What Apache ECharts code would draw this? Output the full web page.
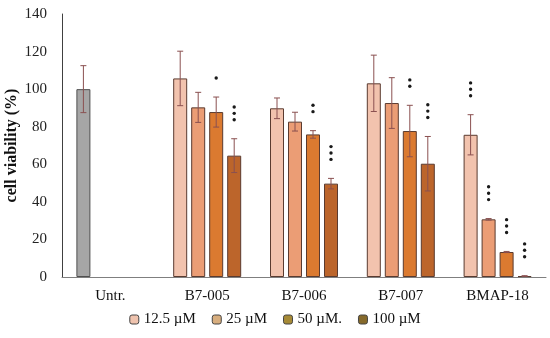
<!DOCTYPE html>
<html><head><meta charset="utf-8">
<script src="https://cdn.jsdelivr.net/npm/echarts@6/dist/echarts.min.js"></script>
<style>html,body{margin:0;padding:0;background:#fff}#c{width:550px;height:338px}</style>
</head><body><div id="c"></div>
<script>
var categories = ['Untr.', 'B7-005', 'B7-006', 'B7-007', 'BMAP-18'];
var seriesNames = ['12.5 \u00b5M', '25 \u00b5M', '50 \u00b5M.', '100 \u00b5M'];
var yTicks = [0, 20, 40, 60, 80, 100, 120, 140];
var v125 = [100, 105.7, 89.8, 103.1, 75.7];
var v25 = [null, 90.3, 82.7, 92.6, 30.7];
var v50 = [null, 87.8, 75.9, 77.7, 13.3];
var v100 = [null, 64.6, 49.7, 60.3, 0.5];
var e125 = [12.5, 14.5, 5.5, 15, 10.7];
var e25 = [null, 8, 5, 13.5, 0.4];
var e50 = [null, 8, 2, 13.7, 0.3];
var e100 = [null, 9, 2.8, 14.5, 0.2];
var s125 = ['', '', '', '', '***'];
var s25 = ['', '', '', '', '***'];
var s50 = ['', '*', '**', '**', '***'];
var s100 = ['', '***', '***', '***', '***'];

var values = [v125, v25, v50, v100];
var errors = [e125, e25, e50, e100];
var stars = [s125, s25, s50, s100];
var colors = ['#F2C3AE', '#EB9D75', '#DB7A30', '#BC652B'];
var legendColors = ['#EFC3AE', '#D8AE7E', '#A68A36', '#85692B'];
var untrColor = '#A6A6A6';
var BAR_W = 14, BAR_GAP = 4;
var FONT = '"Liberation Serif", "Times New Roman", serif';

var chart = echarts.init(document.getElementById('c'), null, {renderer: 'canvas'});
var series = [];
values.forEach(function (vals, si) {
  series.push({
    name: seriesNames[si], type: 'bar', barWidth: BAR_W, barGap: (BAR_GAP / BAR_W * 100) + '%',
    itemStyle: {color: colors[si], borderColor: '#5a3b30', borderWidth: 1},
    data: vals.map(function (v, ci) {
      if (v === null) return '-';
      if (ci === 0) return {value: v, itemStyle: {color: untrColor, borderColor: '#505050'}};
      return v;
    })
  });
});
values.forEach(function (vals, si) {
  var d = [];
  vals.forEach(function (v, ci) { if (v !== null) d.push([ci, v, errors[si][ci], stars[si][ci]]); });
  series.push({
    type: 'custom', silent: true, z: 5,
    data: d,
    renderItem: function (params, api) {
      var ci = api.value(0), v = api.value(1), e = api.value(2);
      var s = d[params.dataIndex][3];
      var off = (si - 1.5) * (BAR_W + BAR_GAP);
      var top = api.coord([ci, v + e]);
      var bot = api.coord([ci, v - e]);
      var x = top[0] + off;
      var cap = 3;
      var lc = '#8a5050';
      var children = [
        {type: 'line', shape: {x1: x, y1: top[1], x2: x, y2: bot[1]}, style: {stroke: lc, lineWidth: 1}},
        {type: 'line', shape: {x1: x - cap, y1: top[1], x2: x + cap, y2: top[1]}, style: {stroke: lc, lineWidth: 1}},
        {type: 'line', shape: {x1: x - cap, y1: bot[1], x2: x + cap, y2: bot[1]}, style: {stroke: lc, lineWidth: 1}}
      ];
      for (var k = 0; k < s.length; k++) {
        children.push({type: 'circle', shape: {cx: x, cy: top[1] - 19 - k * 6.4, r: 1.7}, style: {fill: '#1a1a1a'}});
      }
      return {type: 'group', children: children};
    }
  });
});

chart.setOption({
  animation: false,
  textStyle: {fontFamily: FONT},
  grid: {left: 62, right: 4, top: 14, bottom: 61, containLabel: false, outerBoundsMode: 'none'},
  legend: {
    bottom: 6, left: 'center', itemWidth: 9, itemHeight: 9, itemGap: 16,
    textStyle: {fontFamily: FONT, fontSize: 15, color: '#111'},
    data: seriesNames.map(function (n, i) {
      return {name: n, itemStyle: {color: legendColors[i], borderColor: '#444', borderWidth: 1}};
    })
  },
  xAxis: {
    type: 'category', data: categories,
    axisLine: {lineStyle: {color: '#7f7f7f'}}, axisTick: {show: false},
    axisLabel: {fontFamily: FONT, fontSize: 15, color: '#111', margin: 12}
  },
  yAxis: {
    type: 'value', min: yTicks[0], max: yTicks[yTicks.length - 1], interval: 20,
    name: 'cell viability (%)', nameLocation: 'middle', nameGap: 42, nameMoveOverlap: false,
    nameTextStyle: {fontFamily: FONT, fontSize: 16, fontWeight: 'bold', color: '#111'},
    axisLine: {show: true, lineStyle: {color: '#404040'}}, axisTick: {show: false},
    splitLine: {show: false},
    axisLabel: {fontFamily: FONT, fontSize: 15, color: '#222', margin: 15}
  },
  series: series
});
</script></body></html>
